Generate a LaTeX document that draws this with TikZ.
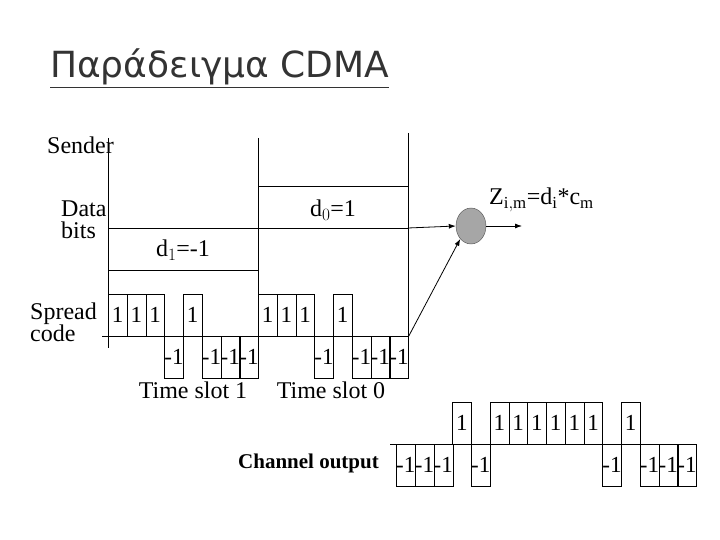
\documentclass[tikz,border=0pt]{standalone}
\usepackage{fontspec}
\setmainfont{Liberation Serif}
\newfontfamily\titlefont{DejaVu Sans}
\usetikzlibrary{arrows.meta, shapes.geometric}
\usetikzlibrary{positioning}

\begin{document}
\begin{tikzpicture}
[
x=1pt, y=-1pt,
                    lbl/.style   ={font=\fontsize{24}{26}\selectfont, inner sep=1pt},
                    chip/.style  ={draw, font=\fontsize{23}{24}\selectfont, inner sep=0pt},
                    mult/.style  ={draw=black!70, fill=black!35, ellipse, minimum width=30pt, minimum height=36pt, inner sep=0pt},
                    line/.style  ={draw, -{Latex[length=7pt,width=5pt]}, thick},
                    ]
\useasboundingbox (0,0) rectangle (720,540);

\node[font=\fontsize{36}{38}\selectfont\titlefont, text=black!80, anchor=base west, inner sep=0pt] (title) at (50,78) {\underline{Παράδειγμα CDMA}};

\node[lbl, anchor=west] (sender) at (46,145) {Sender};
\node[lbl, align=left, anchor=west] (data) at (60,220) {Data\\[-4pt]bits};
\node[lbl, align=left, anchor=west] (spread) at (29,322) {Spread\\[-4pt]code};

% sender axes
\draw (108,138) -- (108,348);
\draw (258,138) -- (258,378);
\draw (408,133) -- (408,378);
\draw (108,228) -- (408,228);
\draw (108,270) -- (258,270);
\draw (258,186) -- (408,186);
\draw (102,336) -- (408,336);
\coordinate (dend) at (408,228);
\node[lbl] (d1) at (183,250) {d$_1$=-1};
\node[lbl] (d0) at (333,210) {d$_0$=1};

% spread code, two slots
\foreach \s in {0,1}
  \foreach \v [count=\i from 0] in {1,1,1,-1,1,-1,-1,-1}
  {
    \pgfmathsetmacro{\xa}{108+150*\s+18.75*\i}
    \ifnum\v>0
      \node[chip, minimum width=18.75pt, minimum height=42pt, anchor=north west] (s\s c\i) at (\xa,294) {1};
    \else
      \node[chip, minimum width=18.75pt, minimum height=42pt, anchor=north west] (s\s c\i) at (\xa,336) {-1};
    \fi
  }
\node[lbl] (slot1) at (193,390) {Time slot 1};
\node[lbl] (slot0) at (331,390) {Time slot 0};

% multiplier
\node[mult] (prod) at (471,226) {};
\coordinate (out) at (522,226);
\node[lbl, anchor=west] (zlabel) at (488,200) {Z$_{\mathrm{i,m}}$=d$_{\mathrm{i}}$*c$_{\mathrm{m}}$};
\path[line] (dend) -- (prod.west);
\path[line] (prod.east) -- (out);
\path[line] (s1c7.north east) -- (prod.south west);

% channel output
\draw (390,444) -- (697,444);
\foreach \v [count=\i from 0] in {-1,-1,-1,1,-1,1,1,1,1,1,1,-1,1,-1,-1,-1}
{
  \pgfmathsetmacro{\xa}{396+18.75*\i}
  \ifnum\v>0
    \node[chip, minimum width=18.75pt, minimum height=42pt, anchor=north west] (ch\i) at (\xa,402) {1};
  \else
    \node[chip, minimum width=18.75pt, minimum height=42pt, anchor=north west] (ch\i) at (\xa,444) {-1};
  \fi
}
\node[lbl, font=\fontsize{21}{22}\selectfont\bfseries, anchor=east] (channel) at (380,463) {Channel output};
\end{tikzpicture}
\end{document}
